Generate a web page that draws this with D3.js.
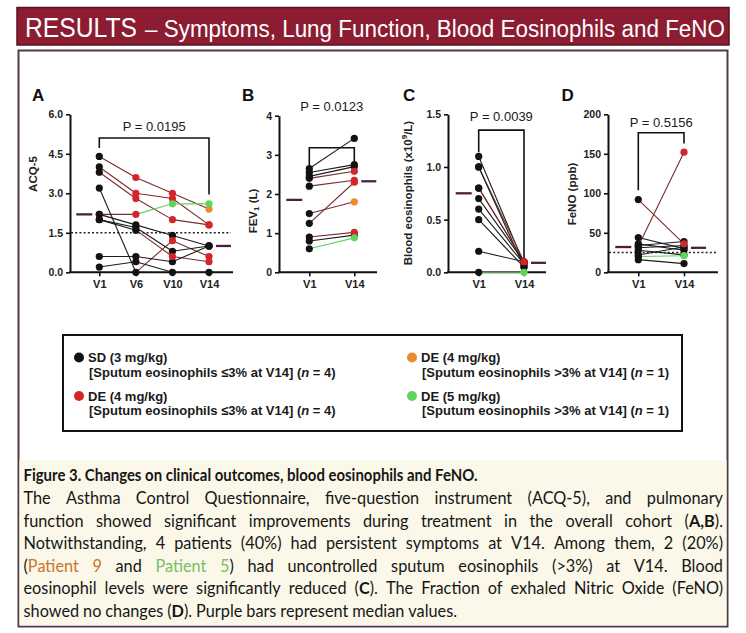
<!DOCTYPE html>
<html><head><meta charset="utf-8">
<script src="https://cdn.jsdelivr.net/npm/d3@7"></script>
<style>html,body{margin:0;padding:0;background:#fff;} svg{display:block;}</style>
</head><body><svg id="c" width="746" height="633"></svg>
<script>
// ---------------- DATA ----------------
const visitsA = ["V1", "V6", "V10", "V14"];
const visitsPair = ["V1", "V14"];

// ACQ-5 per patient (V1, V6, V10, V14) and group code per visit
const acq5Values = [
  [4.4, 3.6, 3.0, 2.4],
  [4.0, 3.0, 2.8, 1.8],
  [3.8, 2.8, 2.0, 1.8],
  [2.2, 2.2, 2.6, 2.6],
  [3.2, 0.0, 1.2, 0.6],
  [2.0, 1.6, 0.6, 0.4],
  [2.2, 1.8, 1.4, 1.0],
  [2.0, 1.7, 0.8, 1.0],
  [0.6, 0.6, 0.4, 1.0],
  [0.2, 0.4, 0.0, 0.0]
];
const acq5Groups = [
  ["k","r","r","o"], ["k","r","r","r"], ["k","r","r","r"], ["k","r","g","g"],
  ["k","k","r","r"], ["k","k","r","r"], ["k","k","k","k"], ["k","k","k","k"],
  ["k","k","k","k"], ["k","k","k","k"]
];

// FEV1 (L) per patient (V1, V14)
const fev1Values = [
  [2.65, 3.42], [2.55, 2.75], [2.45, 2.70], [2.40, 2.58], [2.20, 2.35],
  [1.50, 1.80], [1.25, 2.30], [0.90, 1.02], [0.80, 0.95], [0.60, 0.88]
];
const fev1Groups = [
  ["k","k"], ["k","k"], ["k","k"], ["k","r"], ["k","r"],
  ["k","o"], ["k","r"], ["k","r"], ["k","k"], ["k","g"]
];

// Blood eosinophils (x10^9/L) per patient (V1, V14)
const eosValues = [
  [1.1, 0.08], [1.0, 0.10], [1.0, 0.05], [0.8, 0.10], [0.8, 0.10],
  [0.7, 0.10], [0.6, 0.08], [0.5, 0.05], [0.2, 0.10], [0.0, 0.0]
];
const eosGroups = [
  ["k","k"], ["k","r"], ["k","k"], ["k","k"], ["k","r"],
  ["k","k"], ["k","k"], ["k","k"], ["k","k"], ["k","g"]
];

// FeNO (ppb) per patient (V1, V14)
const fenoValues = [
  [92, 36], [44, 30], [36, 28], [33, 152], [34, 39],
  [31, 34], [28, 22], [22, 32], [20, 21], [16, 11]
];
const fenoGroups = [
  ["k","r"], ["k","k"], ["k","k"], ["k","r"], ["k","k"],
  ["k","k"], ["k","k"], ["k","k"], ["k","g"], ["k","k"]
];

const acq5Ticks = [0, 1.5, 3.0, 4.5, 6.0];
const fev1Ticks = [0, 1, 2, 3, 4];
const eosTicks = [0, 0.5, 1.0, 1.5];
const fenoTicks = [0, 50, 100, 150, 200];

const pValues = ["P = 0.0195", "P = 0.0123", "P = 0.0039", "P = 0.5156"];
const acq5Threshold = 1.5;
const fenoThreshold = 25;

const headerMain = "RESULTS";
const headerRest = "\u2013 Symptoms, Lung Function, Blood Eosinophils and FeNO";

const legendItems = [
  {g:"k", name:"SD (3 mg/kg)", sub:"[Sputum eosinophils \u22643% at V14] (", n:"4"},
  {g:"r", name:"DE (4 mg/kg)", sub:"[Sputum eosinophils \u22643% at V14] (", n:"4"},
  {g:"o", name:"DE (4 mg/kg)", sub:"[Sputum eosinophils >3% at V14] (", n:"1"},
  {g:"g", name:"DE (5 mg/kg)", sub:"[Sputum eosinophils >3% at V14] (", n:"1"}
];

const captionTitle = "Figure 3. Changes on clinical outcomes, blood eosinophils and FeNO.";
const captionLines = [
  [{t:"The Asthma Control Questionnaire, five-question instrument (ACQ-5), and pulmonary"}],
  [{t:"function showed significant improvements during treatment in the overall cohort ("}, {t:"A,B", b:true}, {t:")."}],
  [{t:"Notwithstanding, 4 patients (40%) had persistent symptoms at V14. Among them, 2 (20%)"}],
  [{t:"("}, {t:"Patient 9", c:"#c8742a"}, {t:" and "}, {t:"Patient 5", c:"#76c05f"}, {t:") had uncontrolled sputum eosinophils (>3%) at V14. Blood"}],
  [{t:"eosinophil levels were significantly reduced ("}, {t:"C", b:true}, {t:"). The Fraction of exhaled Nitric Oxide (FeNO)"}],
  [{t:"showed no changes ("}, {t:"D", b:true}, {t:"). Purple bars represent median values."}]
];

// ---------------- STYLE ----------------
const svg = d3.select("#c");
const F = "'Liberation Sans', Arial, Helvetica, sans-serif";
const CF = "Lato, 'Open Sans', sans-serif";
const groupColor = {k:"#121212", r:"#d5252a", o:"#e98a2c", g:"#5fd45a"};
const lineColor = {k:"#1c1c1c", r:"#7b2c2c", o:"#7b2c2c", g:"#66d060"};
const medianColor = "#4e1f3c";

// ---------------- HEADER & FRAME ----------------
svg.append("rect").attr("x", 17).attr("y", 7.5).attr("width", 712).attr("height", 37.5)
  .attr("fill", "#8b1c31").attr("stroke", "#5a1020").attr("stroke-width", 1.5);
svg.append("text").attr("x", 25).attr("y", 36.5).attr("font-family", F).attr("font-size", 27)
  .attr("fill", "#fff").attr("textLength", 112).attr("lengthAdjust", "spacingAndGlyphs").text(headerMain);
svg.append("text").attr("x", 145).attr("y", 36.5).attr("font-family", F).attr("font-size", 23)
  .attr("fill", "#fff").attr("textLength", 580).attr("lengthAdjust", "spacingAndGlyphs").text(headerRest);

svg.append("rect").attr("x", 18.5).attr("y", 50.5).attr("width", 709).attr("height", 576)
  .attr("fill", "#fff").attr("stroke", "#4e3c42").attr("stroke-width", 2);
svg.append("rect").attr("x", 19.5).attr("y", 460).attr("width", 707).attr("height", 165.5)
  .attr("fill", "#fbf8ea");

// ---------------- PANELS ----------------
const panels = [
  {letter:"A", letterX:32, values:acq5Values, groups:acq5Groups, visits:visitsA, ticks:acq5Ticks,
   fmt:d3.format(".1f"), domain:[0,6], yTop:114.3, axX0:70, axX1:233, xFirst:99.3, xLast:209,
   label:[{t:"ACQ-5"}], labelX:33, labelY:174, bracket:[5.1, 4.72, 2.95], pY:130.5,
   threshold:acq5Threshold, p:pValues[0]},
  {letter:"B", letterX:242, values:fev1Values, groups:fev1Groups, visits:visitsPair, ticks:fev1Ticks,
   fmt:d3.format("d"), domain:[0,4], yTop:115.7, axX0:279, axX1:377, xFirst:309.3, xLast:354.3,
   label:[{t:"FEV"},{t:"1", sub:true},{t:" (L)"}], labelX:252.5, labelY:211, bracket:[3.18, 2.72, 2.84], pY:110.5,
   threshold:null, p:pValues[1]},
  {letter:"C", letterX:403, values:eosValues, groups:eosGroups, visits:visitsPair, ticks:eosTicks,
   fmt:d3.format(".1f"), domain:[0,1.5], yTop:114.3, axX0:448, axX1:546, xFirst:478.7, xLast:524,
   label:[{t:"Blood eosinophils (x10"},{t:"9", sup:true},{t:"/L)"}], labelX:407.5, labelY:193, bracket:[1.35, 1.14, 0.12], pY:121,
   threshold:null, p:pValues[2]},
  {letter:"D", letterX:561.5, values:fenoValues, groups:fenoGroups, visits:visitsPair, ticks:fenoTicks,
   fmt:d3.format("d"), domain:[0,200], yTop:114.3, axX0:608, axX1:718, xFirst:638.3, xLast:684,
   label:[{t:"FeNO (ppb)"}], labelX:571.7, labelY:194, bracket:[176.7, 104, 163], pY:126.5,
   threshold:fenoThreshold, p:pValues[3]}
];

const yBot = 272.3;

panels.forEach(P => {
  const g = svg.append("g");
  const y = d3.scaleLinear().domain(P.domain).range([yBot, P.yTop]);
  const x = d3.scalePoint().domain(P.visits).range([P.xFirst, P.xLast]);

  g.append("text").attr("x", P.letterX).attr("y", 100.5).attr("font-family", F).attr("font-weight", "bold")
    .attr("font-size", 17).attr("fill", "#111").text(P.letter);

  const ya = g.append("g").attr("transform", `translate(${P.axX0},0)`)
    .call(d3.axisLeft(y).tickValues(P.ticks).tickFormat(P.fmt).tickSize(4).tickSizeOuter(0).tickPadding(3));
  ya.select(".domain").attr("stroke", "#111").attr("stroke-width", 2);
  ya.selectAll(".tick line").attr("stroke", "#111").attr("stroke-width", 1.6);
  ya.selectAll(".tick text").attr("font-family", F).attr("font-weight", "bold").attr("font-size", 10.5).attr("fill", "#222");

  const xa = g.append("g").attr("transform", `translate(0,${yBot})`)
    .call(d3.axisBottom(x).tickSize(4).tickSizeOuter(0).tickPadding(4));
  xa.select(".domain").remove();
  xa.selectAll(".tick line").attr("stroke", "#111").attr("stroke-width", 1.6);
  xa.selectAll(".tick text").attr("font-family", F).attr("font-weight", "bold").attr("font-size", 11).attr("fill", "#222");
  g.append("line").attr("x1", P.axX0 - 1).attr("x2", P.axX1).attr("y1", yBot).attr("y2", yBot)
    .attr("stroke", "#111").attr("stroke-width", 2);

  const lab = g.append("text").attr("transform", `translate(${P.labelX},${P.labelY}) rotate(-90)`)
    .attr("text-anchor", "middle").attr("dominant-baseline", "central")
    .attr("font-family", F).attr("font-weight", "bold").attr("font-size", 11.5).attr("fill", "#222");
  let shift = 0;
  P.label.forEach(part => {
    const ts = lab.append("tspan").text(part.t);
    if (part.sub) { ts.attr("font-size", 8).attr("dy", 3); shift = -3; }
    else if (part.sup) { ts.attr("font-size", 8).attr("dy", -4); shift = 4; }
    else { ts.attr("dy", shift); shift = 0; }
  });

  if (P.threshold !== null) {
    g.append("line").attr("x1", P.axX0 + 1).attr("x2", P.axX1 - 2)
      .attr("y1", y(P.threshold)).attr("y2", y(P.threshold))
      .attr("stroke", "#222").attr("stroke-width", 1.5).attr("stroke-dasharray", "2,2.2");
  }

  const [bt, bl, br] = P.bracket;
  const v0 = P.visits[0], v1 = P.visits[P.visits.length - 1];
  g.append("path")
    .attr("d", `M${x(v0)},${y(bl)}V${y(bt)}H${x(v1)}V${y(br)}`)
    .attr("fill", "none").attr("stroke", "#111").attr("stroke-width", 1.6);
  g.append("text").attr("x", (x(v0) + x(v1)) / 2).attr("y", P.pY).attr("text-anchor", "middle")
    .attr("font-family", F).attr("font-size", 13).attr("fill", "#1a1a1a").text(P.p);

  P.values.forEach((vals, i) => {
    for (let j = 1; j < vals.length; j++) {
      g.append("line")
        .attr("x1", x(P.visits[j-1])).attr("y1", y(vals[j-1]))
        .attr("x2", x(P.visits[j])).attr("y2", y(vals[j]))
        .attr("stroke", lineColor[P.groups[i][j]]).attr("stroke-width", 1.1);
    }
  });

  const pts = [];
  P.values.forEach((vals, i) => vals.forEach((v, j) => pts.push({v, j, grp:P.groups[i][j]})));
  pts.sort((a, b) => (a.grp === "k" ? 0 : 1) - (b.grp === "k" ? 0 : 1));
  g.selectAll("circle.pt").data(pts).enter().append("circle").attr("class", "pt")
    .attr("cx", d => x(P.visits[d.j])).attr("cy", d => y(d.v)).attr("r", 3.6)
    .attr("fill", d => groupColor[d.grp]);

  const med0 = d3.median(P.values, d => d[0]);
  const med1 = d3.median(P.values, d => d[d.length - 1]);
  g.append("line").attr("x1", x(v0) - 23).attr("x2", x(v0) - 7).attr("y1", y(med0)).attr("y2", y(med0))
    .attr("stroke", medianColor).attr("stroke-width", 2.3);
  g.append("line").attr("x1", x(v1) + 7).attr("x2", x(v1) + 22).attr("y1", y(med1)).attr("y2", y(med1))
    .attr("stroke", medianColor).attr("stroke-width", 2.3);
});

// ---------------- LEGEND ----------------
svg.append("rect").attr("x", 63).attr("y", 335).attr("width", 619).attr("height", 96)
  .attr("fill", "#fff").attr("stroke", "#111").attr("stroke-width", 2);
const legPos = [{cx:79, ty:362}, {cx:79, ty:400.5}, {cx:412, ty:362}, {cx:412, ty:400.5}];
legendItems.forEach((it, i) => {
  const p = legPos[i];
  svg.append("circle").attr("cx", p.cx).attr("cy", p.ty - 4.5).attr("r", 5).attr("fill", groupColor[it.g]);
  svg.append("text").attr("x", p.cx + 9).attr("y", p.ty).attr("font-family", F).attr("font-weight", "bold")
    .attr("font-size", 13).attr("fill", "#1a1a1a").text(it.name);
  const t = svg.append("text").attr("x", p.cx + 10).attr("y", p.ty + 14.5).attr("font-family", F)
    .attr("font-weight", "bold").attr("font-size", 13).attr("fill", "#1a1a1a");
  t.append("tspan").text(it.sub);
  t.append("tspan").attr("font-style", "italic").text("n");
  t.append("tspan").text(" = " + it.n + ")");
});

// ---------------- CAPTION ----------------
const capX0 = 23.5, capX1 = 723;
const capSize = 16.3;
const capG = svg.append("g");
const capInner = capG.append("g");

function toWords(runs) {
  const words = []; let cur = [];
  runs.forEach(r => {
    const parts = r.t.split(" ");
    parts.forEach((part, k) => {
      if (k > 0 && cur.length) { words.push(cur); cur = []; }
      if (part !== "") cur.push({t:part, b:r.b, c:r.c});
    });
  });
  if (cur.length) words.push(cur);
  return words;
}

svg.append("text").attr("x", capX0).attr("y", 481).attr("font-family", CF).attr("font-weight", "bold")
  .attr("font-size", capSize).attr("fill", "#161616")
  .attr("textLength", 454).attr("lengthAdjust", "spacingAndGlyphs").text(captionTitle);

const info = captionLines.map((runs, li) => {
  const yy = 504 + li * 22.5;
  const nodes = toWords(runs).map(w => {
    const t = capInner.append("text").attr("y", yy).attr("font-family", CF).attr("font-size", capSize).attr("fill", "#161616");
    w.forEach(piece => {
      const ts = t.append("tspan").text(piece.t);
      if (piece.b) ts.attr("font-weight", "bold");
      if (piece.c) ts.attr("fill", piece.c);
    });
    return t;
  });
  return {nodes, widths: nodes.map(n => n.node().getComputedTextLength()), last: li === captionLines.length - 1};
});
const spaceW = capSize * 0.24;
const maxNat = d3.max(info, d => d3.sum(d.widths) + (d.widths.length - 1) * spaceW);
const k = Math.min(1, (capX1 - capX0) / maxNat);
const availW = (capX1 - capX0) / k;
capInner.attr("transform", `translate(${capX0},0) scale(${k},1)`);
info.forEach(d => {
  const total = d3.sum(d.widths);
  const gap = d.last ? spaceW : (availW - total) / (d.widths.length - 1);
  let xx = 0;
  d.nodes.forEach((n, i) => { n.attr("x", xx); xx += d.widths[i] + gap; });
});
</script></body></html>
